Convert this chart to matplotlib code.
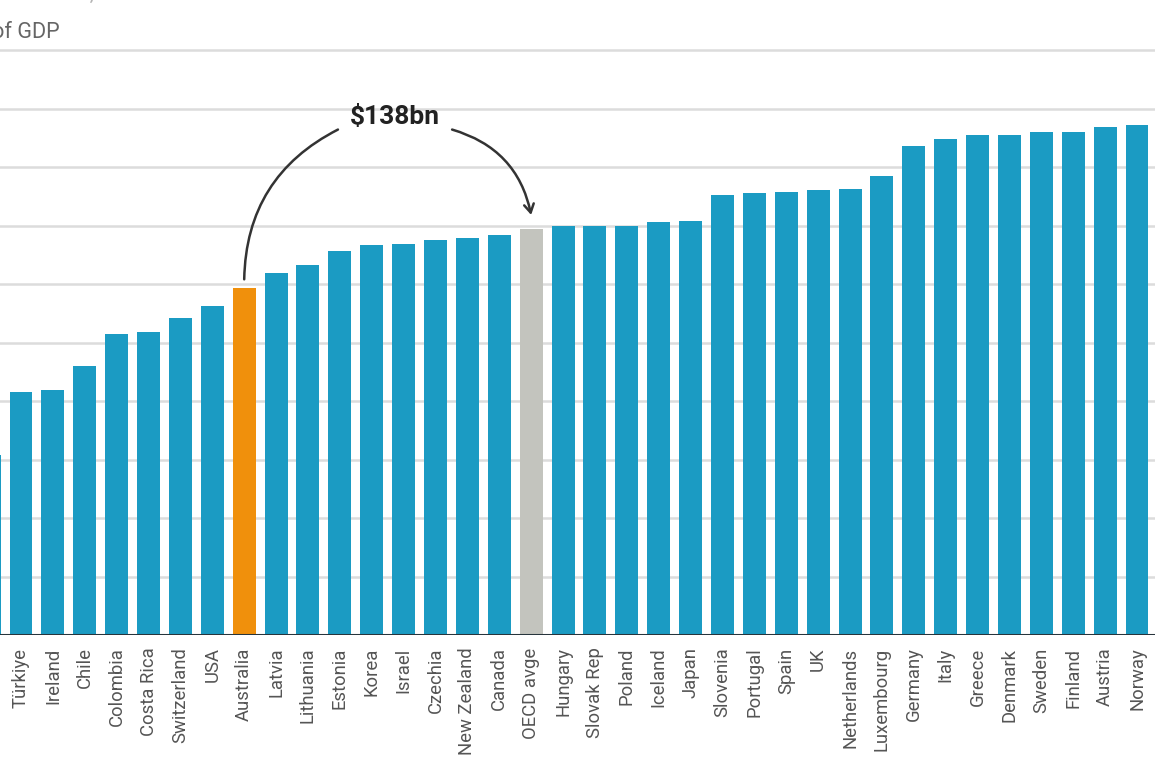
import matplotlib
matplotlib.use("Agg")
import matplotlib.pyplot as plt

countries = ["Mexico", "Türkiye", "Ireland", "Chile", "Colombia", "Costa Rica", "Switzerland",
             "USA", "Australia", "Latvia", "Lithuania", "Estonia", "Korea", "Israel",
             "Czechia", "New Zealand", "Canada", "OECD avge", "Hungary", "Slovak Rep",
             "Poland", "Iceland", "Japan", "Slovenia", "Portugal", "Spain", "UK",
             "Netherlands", "Luxembourg", "Germany", "Italy", "Greece", "Denmark",
             "Sweden", "Finland", "Austria", "Norway"]
values = [15.4, 20.8, 20.9, 23.0, 25.7, 25.9, 27.1,
          28.1, 29.7, 30.9, 31.6, 32.8, 33.3, 33.4,
          33.8, 33.9, 34.2, 34.7, 35.0, 35.0,
          35.0, 35.3, 35.4, 37.6, 37.8, 37.9, 38.0,
          38.1, 39.2, 41.8, 42.4, 42.7, 42.7,
          43.0, 43.0, 43.4, 43.6]
highlight = "Australia"
average = "OECD avge"
gap_label = "$138bn"
unit_label = "% of GDP"
grid_ticks = [5, 10, 15, 20, 25, 30, 35, 40, 45, 50]

plt.rcParams['font.family'] = ['Roboto', 'DejaVu Sans']

W, H = 1155, 770
fig = plt.figure(figsize=(W / 100, H / 100), dpi=100)
fig.patch.set_facecolor("white")

base_px = 635
ax = fig.add_axes([0, (H - base_px) / H, 1, base_px / H])
px_per_unit = 11.7

colors = []
for c in countries:
    if c == highlight:
        colors.append("#f0900c")
    elif c == average:
        colors.append("#c3c4be")
    else:
        colors.append("#1b9bc3")

x = list(range(len(countries)))
ax.bar(x, values, width=0.72, color=colors, zorder=3)

for g in grid_ticks:
    ax.axhline(g, color="#dcdcdc", lw=1.8, zorder=1)
ax.axhline(0, color="#27343c", lw=2.2, zorder=4)

for s in ax.spines.values():
    s.set_visible(False)
ax.set_yticks([])
ax.set_xticks(x)
ax.set_xticklabels(countries, rotation=90, fontsize=13.3, color="#555555")
ax.tick_params(axis="x", length=0, pad=9)

spacing = 31.886
first_px = 21 - spacing  # Mexico centre (cropped off the left edge)
ax.set_xlim(-first_px / spacing, (W - first_px) / spacing)
ax.set_ylim(0, base_px / px_per_unit)

# Annotation
ia = countries.index(highlight)
io = countries.index(average)
ax.text(12.73, 44.3, gap_label, ha="center", va="center", fontsize=19,
        fontweight="bold", color="#222222", zorder=5)
ax.annotate("", xy=(10.94, 43.2), xytext=(ia, values[ia] + 0.7),
            arrowprops=dict(arrowstyle="-", color="#333333", lw=1.8,
                            connectionstyle="arc3,rad=-0.3", shrinkA=0, shrinkB=0))
ax.annotate("", xy=(io, values[io] + 1.2), xytext=(14.52, 43.2),
            arrowprops=dict(arrowstyle="->,head_length=0.6,head_width=0.35", color="#333333", lw=1.8,
                            connectionstyle="arc3,rad=-0.3", shrinkA=0, shrinkB=0))

# Cropped axis label and title
fig.text(60 / W, 1 - 32 / H, unit_label, ha="right", va="center", fontsize=15.5, color="#666666")
fig.text(-0.02, 1 + 6 / H, "Tax revenue, OECD countries", ha="left",
         va="center", fontsize=15, color="#b5b5b5")

fig.savefig("out.png", dpi=100, facecolor="white")
